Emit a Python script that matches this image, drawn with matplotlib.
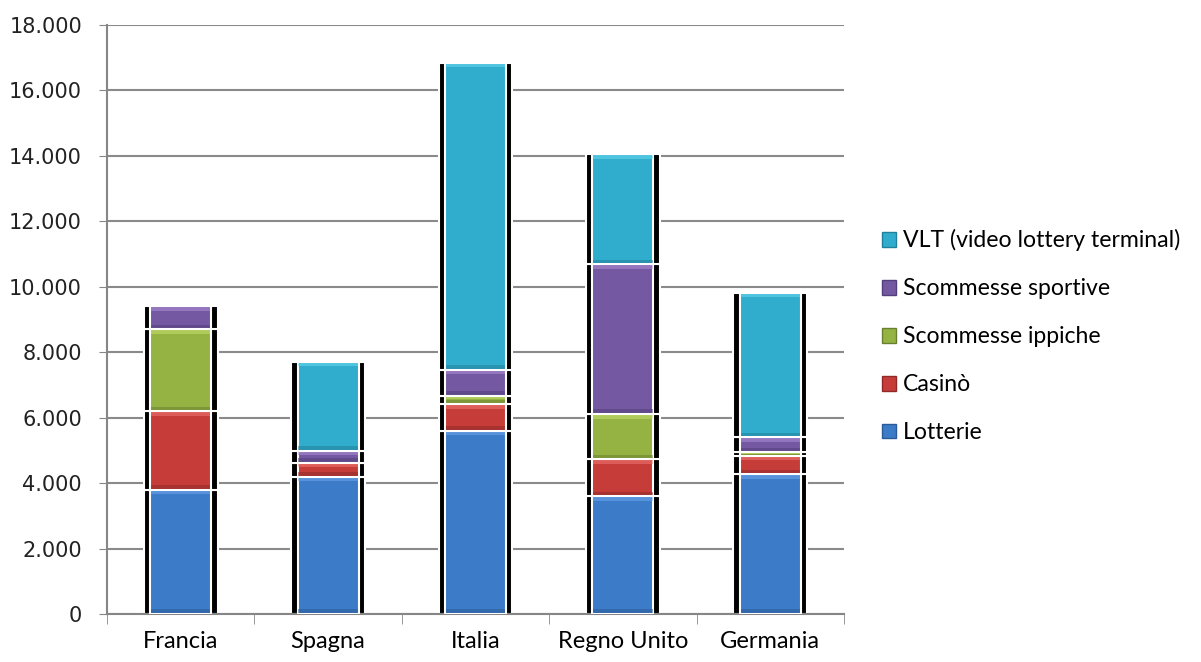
import matplotlib
matplotlib.use("Agg")
import matplotlib.pyplot as plt
import matplotlib.patches as mpatches
import numpy as np

countries = ["Francia", "Spagna", "Italia", "Regno Unito", "Germania"]
series_names = ["Lotterie", "Casinò", "Scommesse ippiche",
                "Scommesse sportive", "VLT (video lottery terminal)"]

lotterie = [3800, 4200, 5600, 3600, 4270]
casino = [2400, 420, 820, 1130, 570]
ippiche = [2500, 0, 250, 1380, 100]
sportive = [700, 370, 790, 4580, 460]
vlt = [0, 2720, 9390, 3360, 4420]

colors = ["#3b7bc8", "#c53c39", "#95b342", "#7458a1", "#30adcc"]
light = ["#6fa6ec", "#f07a74", "#c6e070", "#b08fd8", "#6ad8f0"]
dark = ["#2a5b96", "#8f2a28", "#6a8030", "#53407a", "#22809a"]

values = [lotterie, casino, ippiche, sportive, vlt]

fig = plt.figure(figsize=(12.01, 6.62), dpi=100)
ax = fig.add_axes([0.0891, 0.0725, 0.6136, 0.8897])

x = np.arange(len(countries))
width = 0.415
bevel = 110  # thickness of bevel strip in data units

bottom = np.zeros(len(countries))
for vals, c, lc, dc in zip(values, colors, light, dark):
    vals = np.array(vals, dtype=float)
    mask = vals > 0
    xs, bs, hs = x[mask], bottom[mask], vals[mask]
    # black shadow behind each segment
    ax.bar(xs, hs, 0.50, bottom=bs, color="black", zorder=2,
           edgecolor="white", linewidth=1.5)
    # main face
    ax.bar(xs, hs, width, bottom=bs, color=c, edgecolor="white",
           linewidth=1.5, zorder=3)
    # bevel: light top strip, dark bottom strip
    bh = np.minimum(hs * 0.3, bevel)
    ax.bar(xs, bh, width - 0.012, bottom=bs + hs - bh - 30, color=lc,
           linewidth=0, zorder=4, alpha=0.55)
    ax.bar(xs, bh, width - 0.012, bottom=bs + 30, color=dc,
           linewidth=0, zorder=4, alpha=0.55)
    bottom += vals

ax.set_xlim(-0.5, len(countries) - 0.5)
ax.set_ylim(0, 18000)
ax.set_yticks(np.arange(0, 18001, 2000))
ax.set_yticklabels([f"{v:,}".replace(",", ".") for v in range(0, 18001, 2000)],
                   fontsize=15, family="DejaVu Sans", color="#222222")
ax.set_xticks(x)
ax.set_xticklabels(countries, fontsize=17, family="Lato")
ax.set_xticks(np.arange(-0.5, len(countries), 1), minor=True)
ax.tick_params(axis="x", which="major", length=0, pad=12)
ax.tick_params(axis="x", which="minor", length=7, color="#868686", direction="out")
ax.tick_params(axis="y", length=6, color="#868686", direction="out", pad=12)

ax.yaxis.grid(True, color="#8a8a8a", linewidth=1.5, zorder=0)
ax.set_axisbelow(True)
for s in ["top", "right"]:
    ax.spines[s].set_visible(False)
for s in ["left", "bottom"]:
    ax.spines[s].set_color("#868686")
    ax.spines[s].set_linewidth(1.5)

handles = [mpatches.Patch(facecolor=c, edgecolor=d, linewidth=1)
           for c, d in zip(colors, dark)]
fig.legend(handles[::-1], series_names[::-1], loc="center left",
           bbox_to_anchor=(0.717, 0.492), frameon=False,
           prop={"family": "Lato", "size": 16.6}, labelspacing=1.17,
           handlelength=0.6, handleheight=0.6, handletextpad=0.3)

fig.savefig("out.png", dpi=100)
